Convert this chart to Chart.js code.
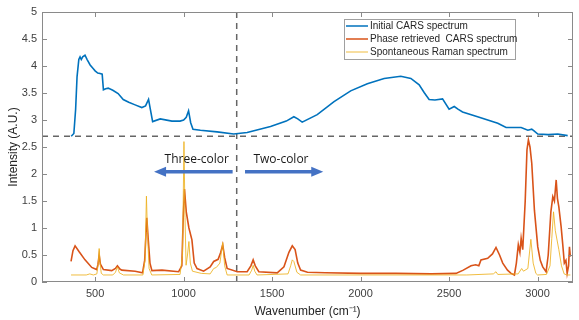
<!DOCTYPE html>
<html>
<head>
<meta charset="utf-8">
<script src="https://cdn.jsdelivr.net/npm/chart.js@4"></script>
<style>
  html, body { margin: 0; padding: 0; background: #fff; }
</style>
</head>
<body>
<canvas id="spectra" width="579" height="320"></canvas>
<script>
// values
const carsX = [365, 380, 390, 398, 408, 415, 422, 430, 443, 455, 472, 490, 500, 515, 528, 540, 547, 560, 574, 600, 630, 659, 690, 726, 764, 785, 802, 812, 825, 868, 934, 980, 1000, 1015, 1028, 1040, 1053, 1095, 1189, 1283, 1359, 1491, 1580, 1623, 1645, 1670, 1755, 1850, 1944, 2038, 2133, 2227, 2284, 2331, 2359, 2387, 2420, 2463, 2500, 2529, 2550, 2576, 2661, 2775, 2822, 2907, 2945, 2967, 2980, 3001, 3060, 3114, 3170];
const carsY = [2.70, 2.75, 3.2, 3.8, 4.12, 4.17, 4.12, 4.17, 4.2, 4.12, 4.02, 3.95, 3.91, 3.87, 3.86, 3.85, 3.56, 3.58, 3.59, 3.55, 3.49, 3.38, 3.33, 3.28, 3.23, 3.26, 3.38, 3.2, 2.97, 3.02, 2.98, 2.98, 3.0, 3.05, 3.17, 2.95, 2.83, 2.81, 2.78, 2.74, 2.77, 2.88, 2.98, 3.06, 3.02, 2.96, 3.1, 3.34, 3.54, 3.67, 3.77, 3.81, 3.77, 3.65, 3.51, 3.38, 3.37, 3.39, 3.2, 3.25, 3.2, 3.15, 3.06, 2.94, 2.86, 2.86, 2.81, 2.83, 2.8, 2.74, 2.73, 2.74, 2.71];

const phaseX = [364, 375, 387, 410, 443, 481, 509, 516, 523, 530, 547, 594, 615, 626, 640, 651, 726, 768, 780, 792, 800, 810, 821, 878, 972, 990, 998, 1005, 1015, 1030, 1047, 1060, 1076, 1113, 1150, 1170, 1195, 1210, 1221, 1232, 1246, 1303, 1359, 1380, 1393, 1405, 1425, 1529, 1567, 1595, 1614, 1630, 1645, 1661, 1700, 1800, 2000, 2200, 2400, 2539, 2580, 2624, 2650, 2668, 2680, 2718, 2745, 2765, 2785, 2803, 2830, 2850, 2869, 2880, 2891, 2900, 2907, 2916, 2930, 2940, 2948, 2957, 2967, 2982, 3001, 3015, 3029, 3048, 3060, 3075, 3086, 3095, 3105, 3112, 3120, 3133, 3142, 3151, 3160, 3167, 3175, 3180, 3185];
const phaseY = [0.38, 0.58, 0.67, 0.56, 0.41, 0.27, 0.23, 0.32, 0.5, 0.33, 0.23, 0.21, 0.25, 0.3, 0.24, 0.22, 0.2, 0.17, 0.4, 1.19, 0.8, 0.35, 0.21, 0.22, 0.19, 0.3, 1.2, 1.72, 1.3, 1.0, 0.78, 0.35, 0.25, 0.2, 0.28, 0.38, 0.42, 0.55, 0.69, 0.45, 0.25, 0.19, 0.19, 0.3, 0.41, 0.3, 0.19, 0.17, 0.28, 0.55, 0.67, 0.6, 0.35, 0.22, 0.18, 0.17, 0.16, 0.16, 0.15, 0.16, 0.22, 0.3, 0.32, 0.3, 0.41, 0.44, 0.52, 0.64, 0.5, 0.35, 0.22, 0.16, 0.13, 0.35, 0.69, 0.55, 0.81, 0.6, 1.5, 2.45, 2.63, 2.5, 2.2, 1.33, 0.65, 0.4, 0.28, 0.19, 0.5, 1.3, 1.58, 1.5, 1.89, 1.55, 1.39, 1.02, 0.7, 0.35, 0.4, 0.16, 0.3, 0.65, 0.47];

const ramanX = [364, 450, 470, 490, 510, 518, 523, 528, 535, 547, 600, 615, 626, 637, 660, 770, 782, 790, 796, 805, 820, 980, 994, 1002, 1008, 1014, 1022, 1030, 1038, 1050, 1100, 1150, 1170, 1185, 1205, 1221, 1232, 1246, 1370, 1385, 1393, 1402, 1415, 1590, 1605, 1614, 1623, 1640, 1661, 2600, 2750, 2765, 2775, 2890, 2910, 2920, 2945, 2962, 2975, 2990, 3000, 3050, 3070, 3080, 3090, 3100, 3120, 3135, 3150, 3165, 3185];
const ramanY = [0.13, 0.13, 0.15, 0.13, 0.15, 0.35, 0.62, 0.35, 0.16, 0.13, 0.13, 0.18, 0.28, 0.17, 0.13, 0.13, 0.4, 1.59, 0.9, 0.25, 0.13, 0.14, 0.5, 2.6, 1.2, 0.31, 0.5, 0.75, 0.35, 0.2, 0.16, 0.15, 0.25, 0.27, 0.35, 0.73, 0.3, 0.13, 0.13, 0.22, 0.31, 0.2, 0.13, 0.15, 0.3, 0.41, 0.38, 0.18, 0.13, 0.13, 0.15, 0.19, 0.14, 0.15, 0.25, 0.2, 0.25, 0.79, 0.35, 0.16, 0.13, 0.14, 0.3, 0.8, 1.3, 0.95, 0.6, 0.3, 0.15, 0.13, 0.13];

const seriesNames = ['Initial CARS spectrum', 'Phase retrieved  CARS spectrum', 'Spontaneous Raman spectrum'];
const xTicks = [500, 1000, 1500, 2000, 2500, 3000];
const yTicks = [0, 0.5, 1, 1.5, 2, 2.5, 3, 3.5, 4, 4.5, 5];
const baselineY = 2.7;
const splitX = 1300;

const COLORS = ['#0072BD', '#D95319', 'rgba(237,177,32,0.85)'];
const AXIS = '#8a8a8a';
const FONT = 'Liberation Sans, Arial, sans-serif';

const toPts = (xs, ys) => xs.map((x, i) => ({ x: x, y: ys[i] }));

// box with inward ticks, arrows, annotations, legend
const decorPlugin = {
  id: 'decor',
  afterDatasetsDraw(chart) {
    const { ctx, chartArea: a, scales: { x, y } } = chart;
    ctx.save();
    ctx.strokeStyle = AXIS;
    ctx.lineWidth = 1;
    ctx.strokeRect(a.left + 0.5, a.top + 0.5, a.right - a.left - 1, a.bottom - a.top - 1);
    ctx.beginPath();
    xTicks.forEach(v => {
      const px = Math.round(x.getPixelForValue(v)) + 0.5;
      ctx.moveTo(px, a.bottom); ctx.lineTo(px, a.bottom - 5);
      ctx.moveTo(px, a.top); ctx.lineTo(px, a.top + 5);
    });
    yTicks.forEach(v => {
      const py = Math.round(y.getPixelForValue(v)) + 0.5;
      ctx.moveTo(a.left, py); ctx.lineTo(a.left + 5, py);
      ctx.moveTo(a.right, py); ctx.lineTo(a.right - 5, py);
    });
    ctx.stroke();

    // direction arrows
    const arrow = (x0, x1, yv) => {
      const p0 = x.getPixelForValue(x0), p1 = x.getPixelForValue(x1), py = y.getPixelForValue(yv);
      const dir = Math.sign(p1 - p0);
      ctx.strokeStyle = '#4472C4';
      ctx.fillStyle = '#4472C4';
      ctx.lineWidth = 3.5;
      ctx.beginPath();
      ctx.moveTo(p0, py); ctx.lineTo(p1 - dir * 10, py);
      ctx.stroke();
      ctx.beginPath();
      ctx.moveTo(p1, py);
      ctx.lineTo(p1 - dir * 12, py - 5);
      ctx.lineTo(p1 - dir * 12, py + 5);
      ctx.closePath();
      ctx.fill();
    };
    arrow(1277, 833, 2.04);
    arrow(1347, 1789, 2.04);
    ctx.fillStyle = '#1a1a1a';
    ctx.font = '12px "Open Sans", ' + FONT;
    ctx.textAlign = 'center';
    ctx.textBaseline = 'middle';
    ctx.fillText('Three-color', x.getPixelForValue(1074), y.getPixelForValue(2.26));
    ctx.fillText('Two-color', x.getPixelForValue(1550), y.getPixelForValue(2.26));

    // legend
    const lx = 344, ly = 19, lw = 171, lh = 40;
    ctx.fillStyle = '#fff';
    ctx.fillRect(lx, ly, lw, lh);
    ctx.strokeStyle = '#a0a0a0';
    ctx.lineWidth = 1;
    ctx.strokeRect(lx + 0.5, ly + 0.5, lw, lh);
    ctx.font = '10px ' + FONT;
    ctx.textAlign = 'left';
    seriesNames.forEach((name, i) => {
      const ry = ly + 7 + i * 13;
      ctx.strokeStyle = COLORS[i];
      ctx.lineWidth = i === 2 ? 1 : 1.5;
      ctx.beginPath();
      ctx.moveTo(lx + 2, ry); ctx.lineTo(lx + 24, ry);
      ctx.stroke();
      ctx.fillStyle = '#262626';
      ctx.fillText(name, lx + 26, ry + 0.5);
    });
    ctx.restore();
  }
};

new Chart(document.getElementById('spectra'), {
  type: 'line',
  data: {
    datasets: [
      { label: seriesNames[0], data: toPts(carsX, carsY), borderColor: COLORS[0], borderWidth: 1.6, order: 3 },
      { label: seriesNames[1], data: toPts(phaseX, phaseY), borderColor: COLORS[1], borderWidth: 1.6, order: 2 },
      { label: seriesNames[2], data: toPts(ramanX, ramanY), borderColor: COLORS[2], borderWidth: 1, order: 1 },
      { label: 'baseline', data: [{ x: 200, y: baselineY }, { x: 3200, y: baselineY }], borderColor: '#666', borderWidth: 1.5, borderDash: [6, 5], order: 4 },
      { label: 'split', data: [{ x: splitX, y: 0 }, { x: splitX, y: 5 }], borderColor: '#666', borderWidth: 1.5, borderDash: [6, 5], order: 4 }
    ]
  },
  options: {
    responsive: false,
    animation: false,
    parsing: false,
    layout: { padding: { top: 12, right: 6, left: 0, bottom: 0 } },
    elements: { point: { radius: 0 }, line: { tension: 0 } },
    plugins: { legend: { display: false }, tooltip: { enabled: false } },
    scales: {
      x: {
        type: 'linear',
        min: 200,
        max: 3200,
        grid: { display: false, drawTicks: false },
        border: { display: false },
        afterBuildTicks: s => { s.ticks = xTicks.map(v => ({ value: v })); },
        afterFit: s => { s.height = 38; },
        ticks: { color: '#404040', font: { family: FONT, size: 11 }, padding: 5, maxRotation: 0, callback: v => String(v) },
        title: { display: true, text: 'Wavenumber (cm\u207B\u00B9)', color: '#262626', font: { family: FONT, size: 12 }, padding: { top: 0, bottom: 1 } }
      },
      y: {
        min: 0,
        max: 5,
        grid: { display: false, drawTicks: false },
        border: { display: false },
        afterBuildTicks: s => { s.ticks = yTicks.map(v => ({ value: v })); },
        afterFit: s => { s.width = 42; },
        ticks: { color: '#404040', font: { family: FONT, size: 11 }, padding: 5, callback: v => String(v) },
        title: { display: true, text: 'Intensity (A.U.)', color: '#262626', font: { family: FONT, size: 12 }, padding: { top: 6, bottom: 0 } }
      }
    }
  },
  plugins: [decorPlugin]
});
</script>
</body>
</html>
